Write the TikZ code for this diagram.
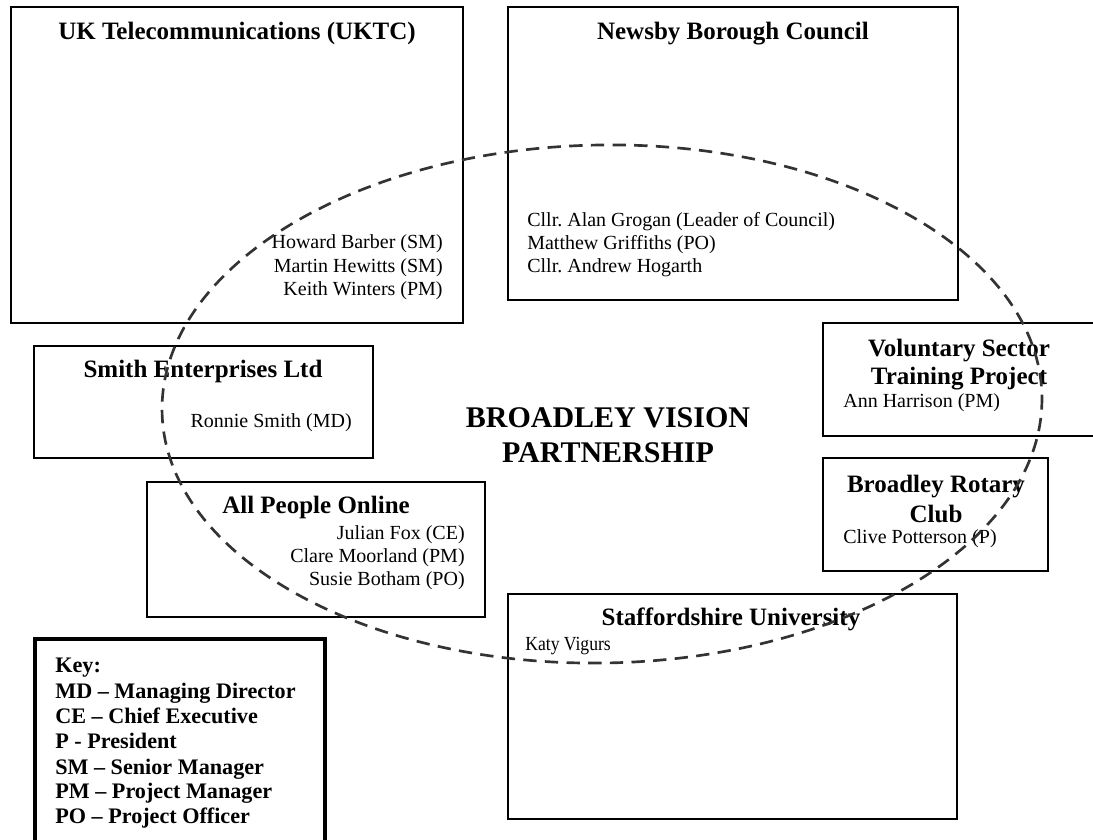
\documentclass[tikz,border=0pt]{standalone}
\usepackage{fontspec}
\setmainfont{Liberation Serif}
\usetikzlibrary{fit}
\definecolor{ringgray}{HTML}{333333}

\begin{document}
\begin{tikzpicture}[x=0.6pt,y=-0.6pt,
  orgbox/.style={draw, line width=1.1pt, inner sep=0pt},
  keybox/.style={draw, line width=2.4pt, inner sep=0pt},
  title/.style={font=\fontsize{15}{18}\selectfont\bfseries, anchor=base, inner sep=0pt},
  person/.style={font=\fontsize{12}{14}\selectfont, inner sep=0pt},
  keyline/.style={font=\fontsize{13.3}{16}\selectfont\bfseries, anchor=base west, inner sep=0pt},
  partnerline/.style={draw=ringgray, line width=1.6pt, dash pattern=on 8pt off 5pt}]
\useasboundingbox (0,0) rectangle (1093,840);
\clip (0,0) rectangle (1093,840);
% Boxes
\node[orgbox, fit={(11,7) (463,323)}] (uktc) {};
\node[orgbox, fit={(508,7) (958,300)}] (newsby) {};
\node[orgbox, fit={(823,323) (1095,436)}] (vstp) {};
\node[orgbox, fit={(34,346) (373,458)}] (smith) {};
\node[orgbox, fit={(823,458) (1048,571)}] (rotary) {};
\node[orgbox, fit={(147,482) (485,617)}] (apo) {};
\node[orgbox, fit={(508,594) (957,819)}] (staffs) {};
\node[keybox, fit={(35,639) (325,900)}] (key) {};
% UKTC
\node[title] (uktc-t) at (237,40) {UK Telecommunications (UKTC)};
\node[person, anchor=base east] (barber) at (443,249) {Howard Barber (SM)};
\node[person, anchor=base east] (hewitts) at (443,273) {Martin Hewitts (SM)};
\node[person, anchor=base east] (winters) at (443,296) {Keith Winters (PM)};
% Newsby
\node[title] (newsby-t) at (733,40) {Newsby Borough Council};
\node[person, anchor=base west] (grogan) at (527,227) {Cllr.\ Alan Grogan (Leader of Council)};
\node[person, anchor=base west] (griffiths) at (527,250) {Matthew Griffiths (PO)};
\node[person, anchor=base west] (hogarth) at (527,273) {Cllr.\ Andrew Hogarth};
% Voluntary Sector
\node[title] (vstp-t1) at (959,357) {Voluntary Sector};
\node[title] (vstp-t2) at (959,385) {Training Project};
\node[person, anchor=base west] (harrison) at (843,408) {Ann Harrison (PM)};
% Smith
\node[title] (smith-t) at (203,378) {Smith Enterprises Ltd};
\node[person, anchor=base east] (ronnie) at (352,427) {Ronnie Smith (MD)};
% Rotary
\node[title] (rotary-t1) at (936,492) {Broadley Rotary};
\node[title] (rotary-t2) at (936,522) {Club};
\node[person, anchor=base west] (potterson) at (843,543) {Clive Potterson (P)};
% All People Online
\node[title] (apo-t) at (316,513) {All People Online};
\node[person, anchor=base east] (fox) at (465,539) {Julian Fox (CE)};
\node[person, anchor=base east] (moorland) at (465,562) {Clare Moorland (PM)};
\node[person, anchor=base east] (botham) at (465,585) {Susie Botham (PO)};
% Staffordshire
\node[title] (staffs-t) at (731,625) {Staffordshire University};
\node[person, anchor=base west] (vigurs) at (525,650) {\scalebox{0.88}[1]{Katy Vigurs}};
% Partnership
\node[font=\fontsize{18}{21}\selectfont\bfseries, anchor=base, inner sep=0pt] (bvp1) at (608,428) {BROADLEY VISION};
\node[font=\fontsize{18}{21}\selectfont\bfseries, anchor=base, inner sep=0pt] (bvp2) at (608,462) {PARTNERSHIP};
\draw[partnerline, rotate around={1:(602,404)}] (602,404) ellipse [x radius=440, y radius=259];
% Key
\node[keyline] (key-0) at (55,672) {Key:};
\node[keyline] (key-md) at (55,698) {MD -- Managing Director};
\node[keyline] (key-ce) at (55,723) {CE -- Chief Executive};
\node[keyline] (key-p) at (55,748) {P - President};
\node[keyline] (key-sm) at (55,774) {SM -- Senior Manager};
\node[keyline] (key-pm) at (55,798) {PM -- Project Manager};
\node[keyline] (key-po) at (55,823) {PO -- Project Officer};
\end{tikzpicture}
\end{document}
